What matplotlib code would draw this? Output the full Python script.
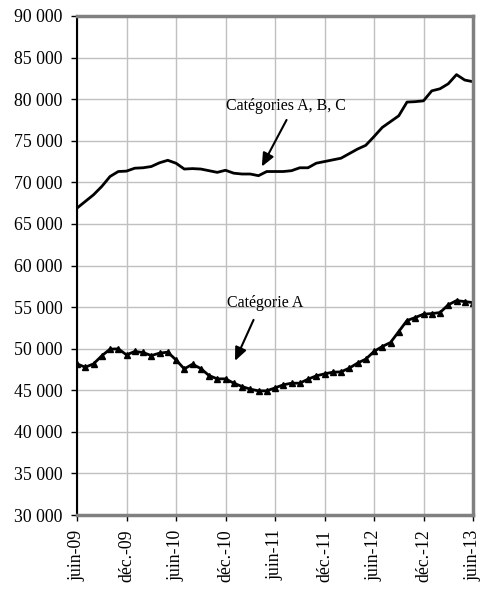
import numpy as np
import matplotlib
matplotlib.use("Agg")
import matplotlib.pyplot as plt

plt.rcParams['font.family'] = ['Liberation Serif', 'DejaVu Serif']

# monthly series, juin-09 .. juin-13
abc_values = [66900, 67700, 68500, 69500, 70700, 71300, 71350, 71700, 71750, 71900,
              72350, 72650, 72300, 71600, 71650, 71600, 71400, 71200, 71450, 71100,
              71000, 71000, 70800, 71300, 71300, 71300, 71400, 71750, 71750, 72300,
              72500, 72700, 72900, 73450, 74000, 74450, 75500, 76600, 77300, 78000,
              79650, 79700, 79800, 81000, 81250, 81850, 82950, 82300, 82100]
a_values = [48170, 47770, 48170, 49140, 49940, 49980, 49260, 49660, 49540, 49170,
            49460, 49580, 48650, 47570, 48130, 47610, 46770, 46370, 46370, 45850,
            45450, 45130, 44930, 44930, 45280, 45650, 45850, 45850, 46330, 46730,
            46970, 47170, 47210, 47660, 48260, 48740, 49660, 50260, 50740, 52060,
            53380, 53740, 54150, 54220, 54340, 55270, 55780, 55660, 55540]
month_labels = ["juin-09", "déc.-09", "juin-10", "déc.-10", "juin-11",
                "déc.-11", "juin-12", "déc.-12", "juin-13"]
y_ticks = list(range(30000, 90001, 5000))

months = np.arange(len(abc_values))

fig = plt.figure(figsize=(4.99, 6.02), dpi=100)
ax = fig.add_axes([77 / 499, 1 - 515 / 602, (473 - 77) / 499, (515 - 16) / 602])

ax.plot(months, abc_values, color='black', lw=2)
ax.plot(months, a_values, color='black', lw=2, marker='^', markersize=5)

ax.set_xlim(0, 48)
ax.set_ylim(30000, 90000)
ax.set_xticks(np.arange(0, 49, 6))
ax.set_xticklabels(month_labels, rotation=90, fontsize=12.8)
ax.set_yticks(y_ticks)
ax.set_yticklabels([f"{v // 1000} 000" for v in y_ticks], fontsize=12.8)
ax.tick_params(direction='out', length=4.5, width=1, pad=6)

ax.grid(True, color='#c0c0c0', lw=1)
ax.set_axisbelow(True)

ax.spines['left'].set_color('black')
ax.spines['left'].set_linewidth(1.5)
for side in ['top', 'right', 'bottom']:
    ax.spines[side].set_color('#808080')
    ax.spines[side].set_linewidth(2.5)

arrow = dict(arrowstyle='-|>,head_width=0.35,head_length=0.8',
             color='black', lw=1.5, shrinkA=0, shrinkB=0)

ax.text(25.3, 79220, "Catégories A, B, C", ha='center', va='center', fontsize=11.5)
ax.annotate("", xy=(22.4, 71890), xytext=(25.4, 77500), arrowprops=arrow)

ax.text(22.8, 55500, "Catégorie A", ha='center', va='center', fontsize=11.5)
ax.annotate("", xy=(19.15, 48530), xytext=(21.4, 53460), arrowprops=arrow)

fig.savefig("out.png", dpi=100)
